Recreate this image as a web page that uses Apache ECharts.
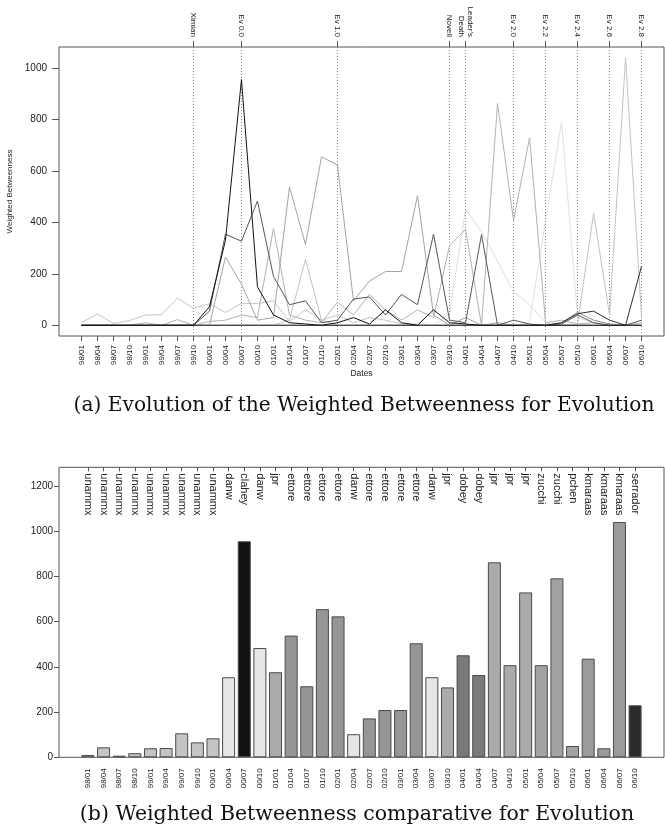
<!DOCTYPE html>
<html>
<head>
<meta charset="utf-8">
<script src="https://cdn.jsdelivr.net/npm/echarts@6/dist/echarts.min.js"></script>
<style>
  html, body { margin: 0; padding: 0; background: #fff; }
  #chart { width: 665px; height: 836px; }
</style>
</head>
<body>
<div id="chart"></div>
<script>
// Quarterly periods (yy/mm)
const dates = ['98/01','98/04','98/07','98/10','99/01','99/04','99/07','99/10',
  '00/01','00/04','00/07','00/10','01/01','01/04','01/07','01/10',
  '02/01','02/04','02/07','02/10','03/01','03/04','03/07','03/10',
  '04/01','04/04','04/07','04/10','05/01','05/04','05/07','05/10',
  '06/01','06/04','06/07','06/10'];

// Release / project events (position = period number, 1-based)
const eventPos = [8, 11, 17, 24, 25, 28, 30, 32, 34, 36];
const eventLabels = ['Ximian', 'Ev 0.0', 'Ev 1.0', 'Novell', "Leader's\nDeath",
  'Ev 2.0', 'Ev 2.2', 'Ev 2.4', 'Ev 2.6', 'Ev 2.8'];

// Weighted betweenness per developer and period
const unammx  = [10,44,7,18,40,41,106,66,84,50,85,85,95,15,60,20,40,10,30,20,5,0,0,0,0,0,0,0,0,0,0,0,0,0,0,0];
const jpr     = [0,0,0,0,10,0,22,0,15,20,40,30,376,40,20,10,90,40,120,60,20,60,30,309,373,0,862,407,729,10,20,5,10,0,0,10];
const ettore  = [0,0,0,0,0,0,0,0,0,265,160,20,30,538,314,655,623,95,172,209,209,504,40,0,30,0,10,0,0,0,0,0,0,0,0,0];
const danw    = [0,0,0,0,0,0,0,0,55,354,327,483,190,80,95,10,20,102,110,40,120,80,354,20,10,353,0,20,5,0,5,40,10,0,0,20];
const clahey  = [0,0,0,0,0,0,0,0,72,330,955,150,40,10,5,0,10,30,5,60,10,0,60,10,5,0,0,0,0,0,0,0,0,0,0,0];
const dobey   = [0,0,0,0,0,0,0,0,0,0,0,0,0,0,0,0,0,0,0,0,0,10,0,45,451,364,250,130,80,10,0,0,0,0,0,0];
const zucchi  = [0,0,0,0,0,0,0,0,0,0,0,0,0,0,0,0,0,0,0,0,0,0,0,0,0,0,0,0,10,407,791,30,10,0,0,0];
const pchen   = [0,0,0,0,0,0,0,0,0,0,0,0,0,0,0,0,0,0,0,0,0,0,0,0,0,0,0,0,0,0,10,50,20,5,0,0];
const kmaraas = [0,0,0,0,0,0,0,0,0,0,0,0,0,20,256,20,0,0,0,0,0,0,0,0,0,0,0,0,0,0,0,5,436,40,1040,30];
const serrador= [0,0,0,0,0,0,0,0,0,0,0,0,0,0,0,0,0,0,0,0,0,0,0,0,0,0,0,0,0,0,10,45,55,20,0,230];

// Top developer of each period and its weighted betweenness
const leaders = ['unammx','unammx','unammx','unammx','unammx','unammx','unammx','unammx','unammx',
  'danw','clahey','danw','jpr','ettore','ettore','ettore','ettore','danw','ettore','ettore','ettore','ettore',
  'danw','jpr','dobey','dobey','jpr','jpr','jpr','zucchi','zucchi','pchen','kmaraas','kmaraas','kmaraas','serrador'];
const leaderValues = [10,44,7,18,40,41,106,66,84,354,955,483,376,538,314,655,623,102,172,209,209,504,
  354,309,451,364,862,407,729,407,791,50,436,40,1040,230];

const yTicksTop = [0, 200, 400, 600, 800, 1000];
const yTicksBar = [0, 200, 400, 600, 800, 1000, 1200];

// Drawing styles
const lineColors = {
  dobey: '#dedede', zucchi: '#e2e2e2', unammx: '#c6c6c6', kmaraas: '#c2c2c2', jpr: '#b2b2b2',
  ettore: '#a4a4a4', pchen: '#8a8a8a', danw: '#575757', serrador: '#303030', clahey: '#111111'
};
const barColors = {
  unammx: '#c4c4c4', danw: '#e6e6e6', clahey: '#111111', jpr: '#ababab', ettore: '#969696',
  dobey: '#7a7a7a', zucchi: '#a3a3a3', pchen: '#a3a3a3', kmaraas: '#9b9b9b', serrador: '#2b2b2b'
};
const lineSeriesData = { dobey, zucchi, unammx, kmaraas, jpr, ettore, pchen, danw, serrador, clahey };

const FONT = '"Liberation Sans", Arial, sans-serif';
const SERIF = '"DejaVu Serif", "Liberation Serif", serif';
const AX = '#555';
const TXT = '#222';
const pos = dates.map((d, i) => i + 1);

const lineSeries = Object.keys(lineSeriesData).map((name, k) => ({
  name: name,
  type: 'line',
  xAxisIndex: 0,
  yAxisIndex: 0,
  symbol: 'none',
  clip: false,
  lineStyle: { width: 1, color: lineColors[name] },
  data: lineSeriesData[name].map((v, i) => [i + 1, v]),
  z: 3 + k
}));

// dotted event markers
lineSeries[0].markLine = {
  silent: true,
  symbol: ['none', 'none'],
  label: { show: false },
  lineStyle: { type: [1, 2], color: '#8a8a8a', width: 1 },
  data: eventPos.map(p => ({ xAxis: p }))
};

const noLine = { show: false, onZero: false };

const chart = echarts.init(document.getElementById('chart'));
chart.setOption({
  animation: false,
  backgroundColor: '#fff',
  grid: [
    { left: 59, right: 1, top: 47, bottom: 500, show: true, borderColor: AX, borderWidth: 1,
      containLabel: false, outerBoundsMode: 'none' },
    { left: 59, right: 1, top: 467.3, bottom: 78.7, show: true, borderColor: AX, borderWidth: 1,
      containLabel: false, outerBoundsMode: 'none' }
  ],
  xAxis: [
    {
      gridIndex: 0, type: 'value', position: 'bottom', min: -0.4, max: 37.4,
      splitLine: { show: false }, axisLine: noLine,
      axisTick: { show: true, customValues: pos, length: 5, lineStyle: { color: AX } },
      axisLabel: { customValues: pos, rotate: 90, fontSize: 8, margin: 9, color: TXT, fontFamily: FONT,
        formatter: v => dates[Math.round(v) - 1] },
      name: 'Dates', nameLocation: 'middle', nameGap: 30,
      nameTextStyle: { fontSize: 8.5, color: TXT, fontFamily: FONT }
    },
    {
      gridIndex: 0, type: 'value', position: 'top', min: -0.4, max: 37.4,
      splitLine: { show: false }, axisLine: noLine,
      axisTick: { show: true, customValues: eventPos, length: 6, lineStyle: { color: AX } },
      axisLabel: { customValues: eventPos, rotate: 90, fontSize: 8, margin: 10, color: TXT, fontFamily: FONT,
        lineHeight: 9,
        formatter: v => eventLabels[eventPos.indexOf(Math.round(v))] }
    },
    {
      gridIndex: 1, type: 'value', position: 'bottom', min: -0.85, max: 37.85,
      splitLine: { show: false }, axisLine: noLine,
      axisTick: { show: false },
      axisLabel: { customValues: pos, rotate: 90, fontSize: 8, margin: 11, color: TXT, fontFamily: FONT,
        formatter: v => dates[Math.round(v) - 1] }
    },
    {
      gridIndex: 1, type: 'value', position: 'top', min: -0.85, max: 37.85,
      splitLine: { show: false }, axisLine: noLine,
      axisTick: { show: true, inside: true, customValues: pos, length: 4, lineStyle: { color: AX } },
      axisLabel: { customValues: pos, inside: true, rotate: 90, fontSize: 11, margin: 6, color: TXT, fontFamily: FONT,
        formatter: v => leaders[Math.round(v) - 1] }
    }
  ],
  yAxis: [
    {
      gridIndex: 0, type: 'value', min: -41.6, max: 1081.6,
      splitLine: { show: false }, axisLine: noLine,
      axisTick: { show: true, customValues: yTicksTop, length: 7, lineStyle: { color: AX } },
      axisLabel: { customValues: yTicksTop, fontSize: 10, margin: 12, color: TXT, fontFamily: FONT,
        formatter: v => String(v) },
      name: 'Weighted Betweenness', nameLocation: 'middle', nameRotate: 90, nameGap: 39,
      nameTextStyle: { fontSize: 8, color: TXT, fontFamily: FONT }
    },
    {
      gridIndex: 1, type: 'value', min: 0, max: 1282,
      splitLine: { show: false }, axisLine: noLine,
      axisTick: { show: true, customValues: yTicksBar, length: 5, lineStyle: { color: AX } },
      axisLabel: { customValues: yTicksBar, fontSize: 10, margin: 6, color: TXT, fontFamily: FONT,
        formatter: v => String(v) }
    }
  ],
  series: lineSeries.concat([{
    name: 'leaders',
    type: 'bar',
    xAxisIndex: 2,
    yAxisIndex: 1,
    barWidth: 13,
    itemStyle: { borderColor: '#4a4a4a', borderWidth: 1 },
    data: leaderValues.map((v, i) => ({
      value: [i + 1, v],
      itemStyle: { color: barColors[leaders[i]] }
    }))
  }]),
  graphic: [
    { type: 'text', x: 364, y: 406,
      style: { text: '(a) Evolution of the Weighted Betweenness for Evolution', font: '20.2px ' + SERIF,
        fill: '#111', align: 'center', verticalAlign: 'middle' } },
    { type: 'text', x: 357, y: 815,
      style: { text: '(b) Weighted Betweenness comparative for Evolution', font: '20.5px ' + SERIF,
        fill: '#111', align: 'center', verticalAlign: 'middle' } }
  ]
});
</script>
</body>
</html>
